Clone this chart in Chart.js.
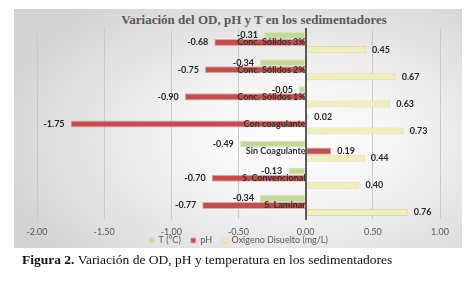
<!DOCTYPE html>
<html lang="es">
<head>
<meta charset="utf-8">
<script src="https://cdn.jsdelivr.net/npm/chart.js@4.4.0/dist/chart.umd.min.js"></script>
<style>
    body { margin: 0; background: #fff; width: 475px; height: 281px; position: relative; overflow: hidden; }
    #marco {
        position: absolute; left: 14px; top: 9px; width: 448px; height: 239px;
        background: radial-gradient(ellipse 70% 75% at 62% 55%, #ffffff 0%, #f4f4f4 35%, #d2d2d2 100%);
    }
    #titulo {
        position: absolute; left: 0; top: 12px; width: 508px; text-align: center;
        font: bold 13px "Liberation Serif", serif; line-height: 15px; color: #595959;
    }
    #grafica { position: absolute; left: 14px; top: 9px; }
    #pie {
        position: absolute; left: 22px; top: 252px; white-space: nowrap;
        font: 13.5px "Liberation Serif", serif; line-height: 15px; color: #111;
    }
</style>
</head>
<body>
<div id="marco"></div>
<div id="titulo">Variación del OD, pH y T en los sedimentadores</div>
<canvas id="grafica" width="448" height="246"></canvas>
<div id="pie"><b>Figura 2.</b> Variación de OD, pH y temperatura en los sedimentadores</div>
<script>
const categorias = ['Conc. Sólidos 3%', 'Conc. Sólidos 2%', 'Conc. Sólidos 1%', 'Con coagulante', 'Sin Coagulante', 'S. Convencional', 'S. Laminar'];
const valoresT = [-0.31, -0.34, -0.05, 0.02, -0.49, -0.13, -0.34];
const valoresPH = [-0.68, -0.75, -0.90, -1.75, 0.19, -0.70, -0.77];
const valoresOD = [0.45, 0.67, 0.63, 0.73, 0.44, 0.40, 0.76];
const ticksX = [-2, -1.5, -1, -0.5, 0, 0.5, 1];

Chart.defaults.font.family = 'Lato';

// etiquetas de valor al final de cada barra
const etiquetasValores = {
    id: 'etiquetasValores',
    afterDatasetsDraw(chart) {
        const ctx = chart.ctx;
        ctx.save();
        ctx.font = 'bold 9px Lato';
        ctx.fillStyle = '#262626';
        ctx.textBaseline = 'middle';
        chart.data.datasets.forEach((ds, i) => {
            chart.getDatasetMeta(i).data.forEach((barra, j) => {
                const v = ds.data[j];
                const negativo = v < 0;
                ctx.textAlign = negativo ? 'right' : 'left';
                ctx.fillText(v.toFixed(2), barra.x + (negativo ? -6 : 6), barra.y);
            });
        });
        ctx.restore();
    }
};

new Chart(document.getElementById('grafica'), {
    type: 'bar',
    data: {
        labels: categorias,
        datasets: [
            { label: 'T (°C)', data: valoresT, backgroundColor: '#c4d79b', borderColor: '#d8e5bb' },
            { label: 'pH', data: valoresPH, backgroundColor: '#c0504d', borderColor: '#e3a9a7' },
            { label: 'Oxígeno Disuelto (mg/L)', data: valoresOD, backgroundColor: '#ecf0bd', borderColor: '#f8cfa4' }
        ]
    },
    options: {
        indexAxis: 'y',
        responsive: false,
        devicePixelRatio: 1,
        animation: false,
        datasets: {
            bar: { categoryPercentage: 0.78, barPercentage: 1, borderWidth: 1, borderSkipped: false }
        },
        layout: { padding: { top: 20, left: 23, right: 22, bottom: 0 } },
        plugins: {
            legend: {
                position: 'bottom',
                labels: { boxWidth: 5, boxHeight: 5, padding: 10, color: '#595959', font: { size: 9 } }
            },
            tooltip: { enabled: false },
            title: { display: false }
        },
        scales: {
            x: {
                min: -2,
                max: 1,
                afterBuildTicks: s => { s.ticks = ticksX.map(v => ({ value: v })); },
                afterFit: s => { s.height = 7; },
                grid: { color: '#c9c9c9', drawTicks: false },
                border: { display: false },
                ticks: { mirror: true, padding: -18.4, color: '#595959', font: { size: 9 }, callback: v => v.toFixed(2) }
            },
            y: {
                position: { x: 0 },
                grid: { color: 'rgba(0,0,0,0)', drawTicks: false },
                border: { display: true, color: '#595959', width: 2, z: 1 },
                ticks: { z: 1, padding: 8, autoSkip: false, color: '#333333', font: { size: 9, weight: 'bold' } }
            }
        }
    },
    plugins: [etiquetasValores]
});
</script>
</body>
</html>
